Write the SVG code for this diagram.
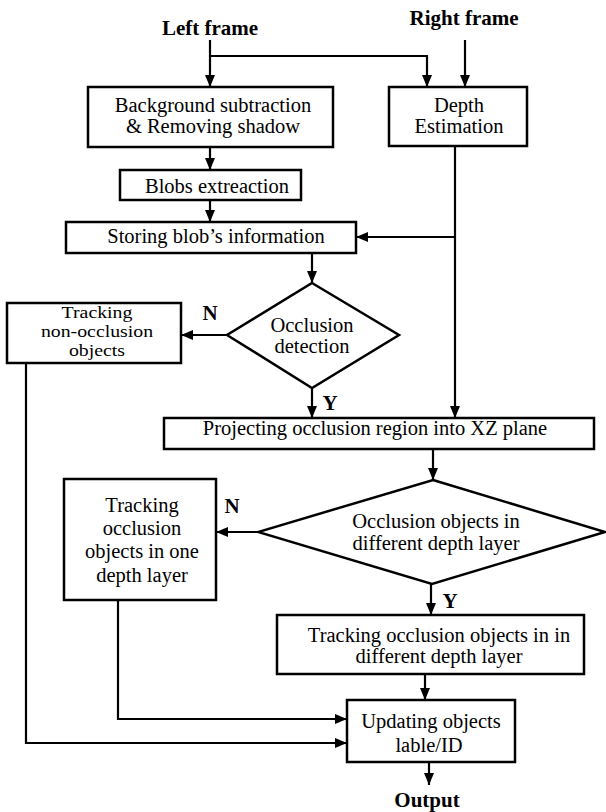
<svg xmlns="http://www.w3.org/2000/svg" width="606" height="812" viewBox="0 0 606 812">
<style>
.box{fill:#fff;stroke:#000;stroke-width:2.5}
.t{font-family:"Liberation Serif","Times New Roman",serif;font-size:20.5px;fill:#000;text-anchor:middle}
.s{font-size:16.5px}
.b{font-family:"Liberation Serif","Times New Roman",serif;font-size:21px;font-weight:bold;fill:#000;text-anchor:middle}
.c{fill:none;stroke:#000;stroke-width:2.2}
</style>
<defs>
<marker id="ah" markerUnits="userSpaceOnUse" markerWidth="12" markerHeight="12" viewBox="0 0 12 12" refX="12" refY="6" orient="auto">
<path d="M0,1 L12,6 L0,11 z" fill="#000"/>
</marker>
</defs>
<rect width="606" height="812" fill="#fff"/>
<g id="connectors">
<path class="c" d="M210,40 V87" marker-end="url(#ah)"/>
<path class="c" d="M210,56 H427 V87" marker-end="url(#ah)"/>
<path class="c" d="M465,40 V87" marker-end="url(#ah)"/>
<path class="c" d="M210,147 V170" marker-end="url(#ah)"/>
<path class="c" d="M210,200 V222" marker-end="url(#ah)"/>
<path class="c" d="M455,146 V418" marker-end="url(#ah)"/>
<path class="c" d="M455,237 H356" marker-end="url(#ah)"/>
<path class="c" d="M312,253 V283" marker-end="url(#ah)"/>
<path class="c" d="M227,335 H181" marker-end="url(#ah)"/>
<path class="c" d="M312,388 V418" marker-end="url(#ah)"/>
<path class="c" d="M26,363 V743 H347" marker-end="url(#ah)"/>
<path class="c" d="M433,449 V480" marker-end="url(#ah)"/>
<path class="c" d="M258,532 H216" marker-end="url(#ah)"/>
<path class="c" d="M431,584 V615" marker-end="url(#ah)"/>
<path class="c" d="M118,600 V719 H347" marker-end="url(#ah)"/>
<path class="c" d="M425,674 V700" marker-end="url(#ah)"/>
<path class="c" d="M429,762 V785" marker-end="url(#ah)"/>
</g>
<g id="labels">
<text class="b" x="210" y="35">Left frame</text>
<text class="b" x="464" y="25">Right frame</text>
<text class="b" x="210" y="320">N</text>
<text class="b" x="330" y="410">Y</text>
<text class="b" x="232" y="513">N</text>
<text class="b" x="450" y="608">Y</text>
<text class="b" x="427" y="807">Output</text>
</g>
<g id="bg-sub">
<rect class="box" x="88" y="87" width="245" height="60"/>
<text class="t" x="213" y="112">Background subtraction</text>
<text class="t" x="213" y="133">&amp; Removing shadow</text>
</g>
<g id="depth">
<rect class="box" x="389" y="87" width="138" height="59"/>
<text class="t" x="459" y="112">Depth</text>
<text class="t" x="459" y="133">Estimation</text>
</g>
<g id="blobs">
<rect class="box" x="120" y="170" width="181" height="30"/>
<text class="t" x="217" y="193">Blobs extreaction</text>
</g>
<g id="storing">
<rect class="box" x="66" y="222" width="290" height="31"/>
<text class="t" x="216" y="243">Storing blob’s information</text>
</g>
<g id="occ-detect">
<polygon class="box" points="312,283 399,335 312,388 227,335"/>
<text class="t" x="312" y="332">Occlusion</text>
<text class="t" x="312" y="353">detection</text>
</g>
<g id="non-occ">
<rect class="box" x="7" y="303" width="174" height="60"/>
<g transform="matrix(1.2,0,0,1,-19.4,0)">
<text class="t s" x="97" y="318">Tracking</text>
<text class="t s" x="97" y="337">non-occlusion</text>
<text class="t s" x="97" y="356">objects</text>
</g>
</g>
<g id="projecting">
<rect class="box" x="164" y="418" width="430" height="31"/>
<text class="t" x="375" y="435">Projecting occlusion region into XZ plane</text>
</g>
<g id="depth-layer-dec">
<polygon class="box" points="433,480 605,532 432,584 258,532"/>
<text class="t" x="436" y="528">Occlusion objects in</text>
<text class="t" x="436" y="550">different depth layer</text>
</g>
<g id="track-one">
<rect class="box" x="64" y="479" width="152" height="121"/>
<text class="t" x="142" y="512">Tracking</text>
<text class="t" x="142" y="535">occlusion</text>
<text class="t" x="142" y="558">objects in one</text>
<text class="t" x="142" y="582">depth layer</text>
</g>
<g id="track-diff">
<rect class="box" x="277" y="615" width="307" height="59"/>
<text class="t" x="439" y="642">Tracking occlusion objects in in</text>
<text class="t" x="439" y="663">different depth layer</text>
</g>
<g id="updating">
<rect class="box" x="347" y="700" width="168" height="62"/>
<text class="t" x="431" y="728">Updating objects</text>
<text class="t" x="429" y="752">lable/ID</text>
</g>
</svg>
